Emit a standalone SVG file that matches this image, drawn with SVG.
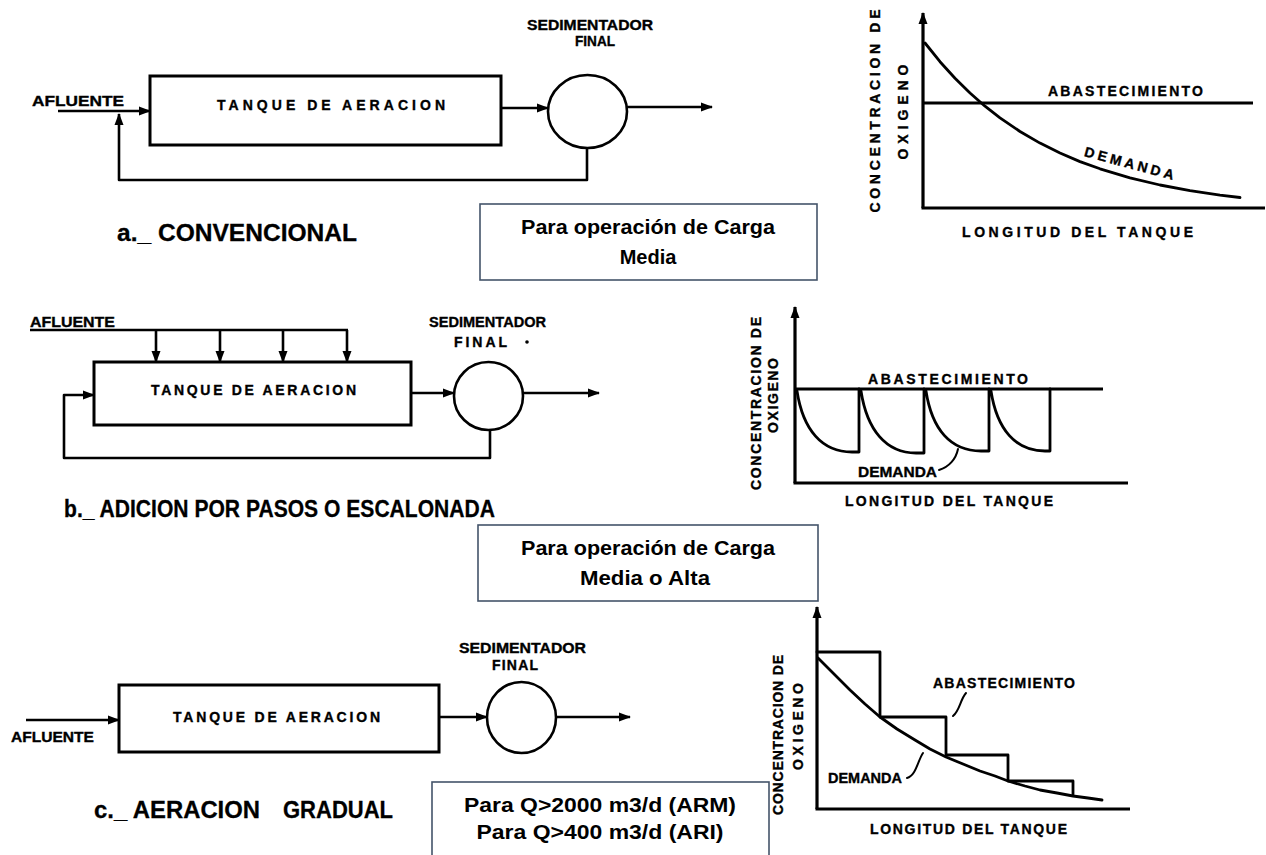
<svg xmlns="http://www.w3.org/2000/svg" width="1266" height="855" viewBox="0 0 1266 855">
<style>
.lbl{font-family:"Liberation Sans",Arial,sans-serif;font-weight:bold;font-size:14px;fill:#000;stroke:#000;stroke-width:0.35}
.ttl{font-family:"Liberation Sans",Arial,sans-serif;font-weight:bold;font-size:24px;fill:#000;stroke:#000;stroke-width:0.3}
.note{font-family:"Liberation Sans",Arial,sans-serif;font-weight:bold;font-size:20px;fill:#000;text-anchor:middle}
.box{fill:#fff;stroke:#44546a;stroke-width:1.6}
.tank{fill:#fff;stroke:#000;stroke-width:3}
.settler{fill:#fff;stroke:#000;stroke-width:2.6}
.ln{fill:none;stroke:#000;stroke-width:2.6;stroke-linejoin:round;stroke-linecap:butt}
.ax{fill:none;stroke:#000;stroke-width:3.2}
.cv{fill:none;stroke:#000;stroke-width:2.8;stroke-linejoin:round;stroke-linecap:round}
.thin{fill:none;stroke:#000;stroke-width:2;stroke-linecap:round}
</style>
<defs>
<marker id="arr" markerUnits="userSpaceOnUse" markerWidth="12" markerHeight="10" refX="11" refY="5" orient="auto">
<path d="M0,0.5 L12,5 L0,9.5 z" fill="#000"/>
</marker>
</defs>
<rect width="1266" height="855" fill="#fff"/>

<!-- ===== Section a ===== -->
<g id="a-afluente"><text class="lbl" x="32" y="106" textLength="92" lengthAdjust="spacingAndGlyphs">AFLUENTE</text></g>
<g id="a-tanque">
<rect class="tank" x="150" y="76" width="351" height="69"/>
<text class="lbl" x="217" y="110" textLength="228">TANQUE DE AERACION</text>
</g>
<g id="a-sedimentador">
<ellipse class="settler" cx="587.5" cy="111.5" rx="39.5" ry="36.5"/>
<text class="lbl" x="527" y="30" textLength="126" font-size="13" lengthAdjust="spacingAndGlyphs">SEDIMENTADOR</text>
<text class="lbl" x="575" y="46" textLength="40" font-size="13" lengthAdjust="spacingAndGlyphs">FINAL</text>
</g>
<g id="a-titulo"><text class="ttl" x="117" y="241" textLength="240" lengthAdjust="spacingAndGlyphs">a._ CONVENCIONAL</text></g>
<g id="nota-a">
<rect class="box" x="480" y="204" width="337" height="76"/>
<text class="note" x="648" y="234" textLength="254" lengthAdjust="spacingAndGlyphs">Para operación de Carga</text>
<text class="note" x="648" y="264">Media</text>
</g>

<!-- ===== Section b ===== -->
<g id="b-afluente"><text class="lbl" x="30" y="327" textLength="85" lengthAdjust="spacingAndGlyphs">AFLUENTE</text></g>
<g id="b-tanque">
<rect class="tank" x="94" y="362" width="317" height="63"/>
<text class="lbl" x="151" y="395" textLength="205">TANQUE DE AERACION</text>
</g>
<g id="b-sedimentador">
<ellipse class="settler" cx="488.5" cy="396" rx="34.5" ry="34"/>
<text class="lbl" x="429" y="327" textLength="117" font-size="13" lengthAdjust="spacingAndGlyphs">SEDIMENTADOR</text>
<text class="lbl" x="454" y="347" textLength="53" font-size="13">FINAL</text>
<circle cx="527" cy="342" r="1.8" fill="#000"/>
</g>
<g id="b-titulo"><text class="ttl" x="64" y="517" textLength="431" font-size="22" lengthAdjust="spacingAndGlyphs">b._ ADICION POR PASOS O ESCALONADA</text></g>
<g id="nota-b">
<rect class="box" x="478" y="525" width="340" height="76"/>
<text class="note" x="648" y="555" textLength="254" lengthAdjust="spacingAndGlyphs">Para operación de Carga</text>
<text class="note" x="645" y="585" textLength="130" lengthAdjust="spacingAndGlyphs">Media o Alta</text>
</g>

<!-- ===== Section c ===== -->
<g id="c-afluente"><text class="lbl" x="11" y="742" textLength="83" lengthAdjust="spacingAndGlyphs">AFLUENTE</text></g>
<g id="c-tanque">
<rect class="tank" x="119" y="685" width="320" height="67"/>
<text class="lbl" x="173" y="722" textLength="207">TANQUE DE AERACION</text>
</g>
<g id="c-sedimentador">
<ellipse class="settler" cx="521.5" cy="717.5" rx="34.5" ry="35.5"/>
<text class="lbl" x="459" y="653" textLength="127" font-size="13" lengthAdjust="spacingAndGlyphs">SEDIMENTADOR</text>
<text class="lbl" x="492" y="670" textLength="46" font-size="13">FINAL</text>
</g>
<g id="c-titulo"><text class="ttl" y="818" font-size="23"><tspan x="94" textLength="166" lengthAdjust="spacingAndGlyphs">c._ AERACION</tspan><tspan x="283" textLength="110" lengthAdjust="spacingAndGlyphs">GRADUAL</tspan></text></g>
<g id="nota-c">
<rect class="box" x="432" y="782" width="337" height="80"/>
<text class="note" x="600" y="812" textLength="272" lengthAdjust="spacingAndGlyphs">Para Q&gt;2000 m3/d (ARM)</text>
<text class="note" x="600" y="839" textLength="247" lengthAdjust="spacingAndGlyphs">Para Q&gt;400 m3/d (ARI)</text>
</g>

<!-- ===== Connectors ===== -->
<g id="connectors">
<!-- a -->
<line class="ln" x1="58" y1="111" x2="150" y2="111" marker-end="url(#arr)"/>
<polyline class="ln" points="587,148 587,180 119,180 119,114" marker-end="url(#arr)"/>
<line class="ln" x1="501" y1="108" x2="548" y2="108" marker-end="url(#arr)"/>
<line class="ln" x1="627" y1="107" x2="712" y2="107" marker-end="url(#arr)"/>
<!-- b -->
<line class="ln" x1="30" y1="330" x2="348" y2="330"/>
<line class="ln" x1="156" y1="330" x2="156" y2="362" marker-end="url(#arr)"/>
<line class="ln" x1="220" y1="330" x2="220" y2="362" marker-end="url(#arr)"/>
<line class="ln" x1="283" y1="330" x2="283" y2="362" marker-end="url(#arr)"/>
<line class="ln" x1="347" y1="330" x2="347" y2="362" marker-end="url(#arr)"/>
<polyline class="ln" points="490,430 490,458 64,458 64,395 94,395" marker-end="url(#arr)"/>
<line class="ln" x1="411" y1="393" x2="454" y2="393" marker-end="url(#arr)"/>
<line class="ln" x1="523" y1="393" x2="599" y2="393" marker-end="url(#arr)"/>
<!-- c -->
<line class="ln" x1="26" y1="720" x2="119" y2="720" marker-end="url(#arr)"/>
<line class="ln" x1="439" y1="717" x2="487" y2="717" marker-end="url(#arr)"/>
<line class="ln" x1="556" y1="717" x2="630" y2="717" marker-end="url(#arr)"/>
</g>

<!-- ===== Chart a ===== -->
<g id="grafico-a">
<line class="ax" x1="923" y1="208" x2="923" y2="13" marker-end="url(#arr)"/>
<line class="ax" x1="921.5" y1="208" x2="1265" y2="208"/>
<line class="ax" x1="923" y1="103" x2="1253" y2="103"/>
<polyline class="cv" points="925,43 940,61.7 955,78.3 970,93 985,106.2 1000,117.8 1020,131.5 1040,143.1 1060,153 1080,161.6 1100,168.8 1130,177.8 1160,185 1190,190.6 1220,195.1 1240,197.5"/>
<text class="lbl" x="1048" y="96" textLength="155">ABASTECIMIENTO</text>
<text class="lbl" transform="translate(1128,168) rotate(15)" x="-46" y="0" textLength="92">DEMANDA</text>
<text class="lbl" x="962" y="237" textLength="231">LONGITUD DEL TANQUE</text>
<text class="lbl" transform="translate(880,111.5) rotate(-90)" x="-101" y="0" textLength="203">CONCENTRACION DE</text>
<text class="lbl" transform="translate(908,112.5) rotate(-90)" x="-47" y="0" textLength="95">OXIGENO</text>
</g>

<!-- ===== Chart b ===== -->
<g id="grafico-b">
<line class="ax" x1="795" y1="483" x2="795" y2="307" marker-end="url(#arr)"/>
<line class="ax" x1="793.5" y1="483" x2="1128" y2="483"/>
<line class="ax" x1="795" y1="389" x2="1103" y2="389"/>
<path class="cv" d="M797,391 C803,430 822,452 852,452 L859,452 L859,389 M861,391 C867,430 886,453 916,453 L924,453 L924,389 M926,391 C932,430 951,451 981,451 L989,451 L989,389 M991,391 C997,430 1016,451 1045,451 L1050,451 L1050,389"/>
<text class="lbl" x="868" y="384" textLength="160">ABASTECIMIENTO</text>
<text class="lbl" x="858" y="477" textLength="79" lengthAdjust="spacingAndGlyphs">DEMANDA</text>
<path class="thin" d="M939,470 C949,467 956,459 958,449"/>
<text class="lbl" x="845" y="506" textLength="208">LONGITUD DEL TANQUE</text>
<text class="lbl" transform="translate(760.5,403.5) rotate(-90)" x="-86.5" y="0" textLength="173" font-size="12">CONCENTRACION DE</text>
<text class="lbl" transform="translate(777.5,395.5) rotate(-90)" x="-37.5" y="0" textLength="75" font-size="12">OXIGENO</text>
</g>

<!-- ===== Chart c ===== -->
<g id="grafico-c">
<line class="ax" x1="817" y1="809" x2="817" y2="607" marker-end="url(#arr)"/>
<line class="ax" x1="815.5" y1="809" x2="1130" y2="809"/>
<polyline class="cv" points="817,652 880,652 880,717 946,717 946,755 1008,755 1008,781 1073,781 1073,795"/>
<polyline class="cv" points="818,658 835,675 850,690 865,704 880,717 897,729 915,740 930,749 946,757 963,764 980,771 995,776 1008,781 1025,786 1040,790 1057,793 1073,796 1088,798 1102,800"/>
<text class="lbl" x="933" y="688" textLength="142">ABASTECIMIENTO</text>
<path class="thin" d="M966,693 C960,700 960,710 953,716"/>
<text class="lbl" x="828" y="783" textLength="74" lengthAdjust="spacingAndGlyphs">DEMANDA</text>
<path class="thin" d="M907,778 C916,776 918,760 923,753"/>
<text class="lbl" x="870" y="834" textLength="197">LONGITUD DEL TANQUE</text>
<text class="lbl" transform="translate(782.5,735) rotate(-90)" x="-80" y="0" textLength="160" font-size="11">CONCENTRACION DE</text>
<text class="lbl" transform="translate(803,726.5) rotate(-90)" x="-43.5" y="0" textLength="87" font-size="11">OXIGENO</text>
</g>
</svg>
